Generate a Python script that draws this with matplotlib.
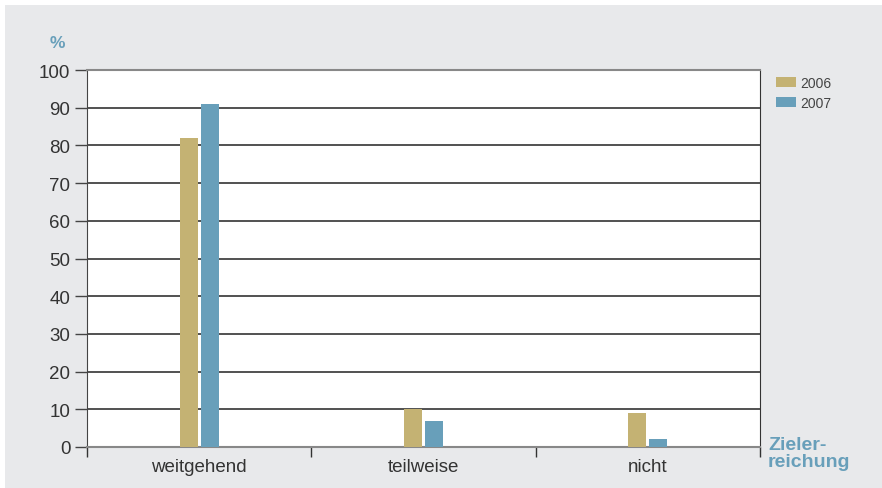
import numpy as np
import matplotlib.pyplot as plt

categories = ['weitgehend', 'teilweise', 'nicht']
years = ['2006', '2007']
values2006 = [82, 10, 9]
values2007 = [91, 7, 2]
yticks = [0, 10, 20, 30, 40, 50, 60, 70, 80, 90, 100]

gold = '#c4b273'
blue = '#689fba'
bg = '#e8e9eb'
plt.rcParams['font.family'] = ['Liberation Sans', 'DejaVu Sans']

fig = plt.figure(figsize=(8.82, 4.89), dpi=100)
fig.patch.set_facecolor('white')

# grey panel behind everything, with a thin white margin top and left
back = fig.add_axes([5 / 882, 0, 1 - 5 / 882, 1 - 6 / 489], zorder=-10)
back.set_facecolor(bg)
back.set_xticks([])
back.set_yticks([])
for s in back.spines.values():
    s.set_visible(False)

ax = fig.add_axes([87 / 882, 1 - 448 / 489, (760 - 87) / 882, (448 - 71) / 489], zorder=1)
ax.set_facecolor('white')

x = np.arange(len(categories))
width = 0.08
gap = 0.007
ax.bar(x - width / 2 - gap, values2006, width, color=gold, label=years[0], zorder=3)
ax.bar(x + width / 2 + gap, values2007, width, color=blue, label=years[1], zorder=3)

ax.set_xlim(-0.5, len(categories) - 0.5)
ax.set_ylim(0, 100)
ax.set_yticks(yticks)
ax.set_yticklabels([str(t) for t in yticks], fontsize=13.5, color='#333333')
ax.tick_params(axis='y', length=9, width=1, color='#444444', pad=3)

# category labels centred, ticks at category boundaries
ax.set_xticks(x)
ax.set_xticklabels(categories, fontsize=13.5, color='#333333')
ax.tick_params(axis='x', length=0, pad=8)
ax.set_xticks(np.arange(len(categories) + 1) - 0.5, minor=True)
ax.tick_params(axis='x', which='minor', length=7, width=1, color='#333333')

for t in yticks[1:-1]:
    ax.axhline(t, color='#222222', lw=1.1, zorder=1)

ax.spines['top'].set_color('#888888')
ax.spines['top'].set_linewidth(1.5)
ax.spines['bottom'].set_color('#888888')
ax.spines['bottom'].set_linewidth(1.5)
ax.spines['left'].set_color('#444444')
ax.spines['right'].set_color('#333333')

leg = ax.legend(loc='upper left', bbox_to_anchor=(1.015, 1.0), frameon=False,
                fontsize=10, handlelength=1.5, handleheight=0.75, handletextpad=0.25,
                labelspacing=0.45, borderaxespad=0.0)
for txt in leg.get_texts():
    txt.set_color('#444444')

fig.text(57 / 882, 1 - 44 / 489, '%', color=blue, fontsize=12.5, fontweight='bold',
         ha='center', va='center')
fig.text(768 / 882, 1 - 454 / 489, 'Zieler-\nreichung',
         color=blue, fontsize=14, fontweight='bold', ha='left', va='center',
         linespacing=0.95)

fig.savefig('out.png', dpi=100, facecolor=fig.get_facecolor())
